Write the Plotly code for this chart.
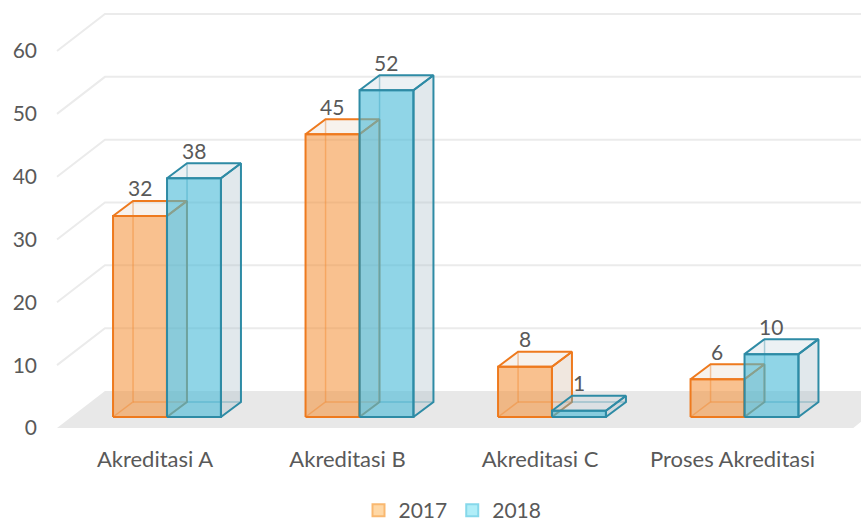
import plotly.graph_objects as go

categories = ["Akreditasi A", "Akreditasi B", "Akreditasi C", "Proses Akreditasi"]
series_names = ["2017", "2018"]
values_2017 = [32, 45, 8, 6]
values_2018 = [38, 52, 1, 10]
y_ticks = [0, 10, 20, 30, 40, 50, 60]

FONT = "Lato, 'Open Sans', sans-serif"
TXT = "#595959"

# geometry (data units)
BAR_W = 0.28
BAR_OFF = [-0.218, 0.0625]
BASE = 1.75          # front plane of bars above label plane
DX, DY = 0.104, 2.39  # bar depth
WALL_X0 = -0.509
WALL_DX, WALL_DY = 0.249, 5.89
X_MIN, X_MAX = -0.5766, 3.6675
Y_MIN, Y_MAX = -2.55, 68.12

styles = [
    dict(front="rgba(244,145,55,0.56)", side="rgba(200,170,140,0.28)", top="rgba(215,190,165,0.2)",
         line="#EE7A1E", hidden="rgba(238,122,30,0.45)", legfill="#FFD8A6", legline="#F9B870"),
    dict(front="rgba(70,185,215,0.6)", side="rgba(170,190,200,0.35)", top="rgba(180,200,210,0.25)",
         line="#2E8BA5", hidden="rgba(46,139,165,0.45)", legfill="#B0EEF8", legline="#86D8EA"),
]

fig = go.Figure()

def poly(xs, ys, fill, line, width=2):
    fig.add_trace(go.Scatter(x=xs + [xs[0]], y=ys + [ys[0]], mode="lines", fill="toself",
                             fillcolor=fill, line=dict(color=line, width=width),
                             hoverinfo="skip", showlegend=False))

def seg(xs, ys, color, width=1.5):
    fig.add_trace(go.Scatter(x=xs, y=ys, mode="lines", line=dict(color=color, width=width),
                             hoverinfo="skip", showlegend=False))

# floor
poly([WALL_X0, X_MAX - 0.04, X_MAX + 0.2, WALL_X0 + WALL_DX],
     [0, 0, WALL_DY, WALL_DY], "#E8E8E8", "rgba(0,0,0,0)", 0)
# gridlines (perspective)
for t in y_ticks[1:]:
    seg([WALL_X0, WALL_X0 + WALL_DX, X_MAX], [t, t + WALL_DY, t + WALL_DY], "#EBEBEB", 2)

annotations = []
data = [values_2017, values_2018]
for i in range(len(categories)):
    for s in range(2):
        st = styles[s]
        v = data[s][i]
        x0 = i + BAR_OFF[s]
        x1 = x0 + BAR_W
        yb, yt = BASE, BASE + v
        # hidden edges
        seg([x0, x0 + DX, x0 + DX], [yb, yb + DY, yt + DY], st["hidden"])
        seg([x0 + DX, x1 + DX], [yb + DY, yb + DY], st["hidden"])
        # side face
        poly([x1, x1 + DX, x1 + DX, x1], [yb, yb + DY, yt + DY, yt], st["side"], st["line"])
        # top face
        poly([x0, x1, x1 + DX, x0 + DX], [yt, yt, yt + DY, yt + DY], st["top"], st["line"])
        # front face
        poly([x0, x1, x1, x0], [yb, yb, yt, yt], st["front"], st["line"])
        annotations.append(dict(x=(x0 + x1) / 2, y=yt, text=str(v), showarrow=False,
                                yshift=28, xref="x", yref="y",
                                font=dict(family=FONT, size=21, color=TXT)))

for s in range(2):
    st = styles[s]
    fig.add_trace(go.Scatter(x=[None], y=[None], mode="markers", name=series_names[s],
                             marker=dict(symbol="square", size=16, color=st["legfill"],
                                         line=dict(color=st["legline"], width=1.5))))

fig.update_layout(
    width=861, height=524,
    margin=dict(l=44, r=0, t=0, b=80, autoexpand=False),
    paper_bgcolor="white", plot_bgcolor="white",
    font=dict(family=FONT, size=21, color=TXT),
    showlegend=True,
    legend=dict(orientation="h", x=0.50, xanchor="center", yref="paper", y=-0.15,
                yanchor="middle", font=dict(family=FONT, size=21, color=TXT),
                itemsizing="constant", traceorder="normal", itemwidth=30),
    annotations=annotations,
    xaxis=dict(range=[X_MIN, X_MAX], tickvals=list(range(len(categories))), ticktext=categories,
               showgrid=False, zeroline=False, showline=False, ticks="", automargin=False,
               tickfont=dict(family=FONT, size=22, color=TXT), fixedrange=True),
    yaxis=dict(range=[Y_MIN, Y_MAX], tickvals=y_ticks, showgrid=False, zeroline=False,
               showline=False, ticks="", automargin=False, ticklabelstandoff=6,
               tickfont=dict(family=FONT, size=21, color=TXT), fixedrange=True),
)

fig.write_html("out.html", config={"displayModeBar": False},
               post_script="document.body.style.margin='0';")
